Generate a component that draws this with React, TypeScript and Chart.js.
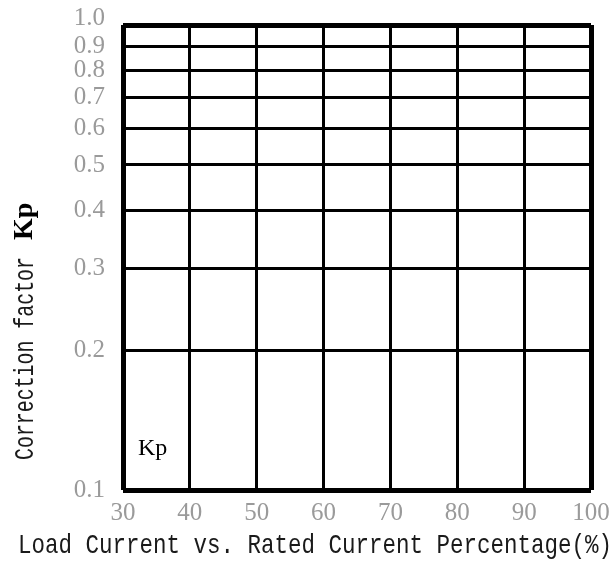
import React, { useEffect, useRef } from "react";
import { Chart, registerables } from "chart.js";

Chart.register(...registerables);

const xTicks = [30, 40, 50, 60, 70, 80, 90, 100];
const yTicks = [0.1, 0.2, 0.3, 0.4, 0.5, 0.6, 0.7, 0.8, 0.9, 1.0];
const seriesLabel = "Kp";
const seriesValues: { x: number; y: number }[] = [];
const xTitle = "Load Current vs. Rated Current Percentage(%)";
const yTitleMain = "Correction factor";
const yTitleSymbol = "Kp";

const drawText = (
  ctx: CanvasRenderingContext2D,
  text: string,
  font: string,
  targetWidth: number
) => {
  ctx.font = font;
  const w = ctx.measureText(text).width;
  const s = targetWidth / w;
  ctx.save();
  ctx.scale(s, 1);
  ctx.fillText(text, 0, 0);
  ctx.restore();
};

const titlesPlugin = {
  id: "titles",
  afterDraw(chart: any) {
    const ctx: CanvasRenderingContext2D = chart.ctx;
    ctx.save();
    ctx.textAlign = "left";
    ctx.textBaseline = "alphabetic";
    ctx.fillStyle = "#1a1a1a";
    // x title
    ctx.save();
    ctx.translate(18, 553);
    drawText(ctx, xTitle, '28px "Liberation Mono"', 594);
    ctx.restore();
    // y title
    ctx.save();
    ctx.translate(33, 460);
    ctx.rotate(-Math.PI / 2);
    drawText(ctx, yTitleMain, '27px "Liberation Mono"', 203);
    ctx.translate(220, -1);
    ctx.font = 'bold 28px "Liberation Serif"';
    ctx.fillStyle = "#000";
    ctx.fillText(yTitleSymbol, 0, 0);
    ctx.restore();
    // series label
    const label = chart.data.datasets[0]?.label ?? "";
    ctx.font = '24px "Liberation Serif"';
    ctx.fillStyle = "#000";
    ctx.fillText(label, 138, 455);
    ctx.restore();
  },
};

const zeroPadding = (s: any) => {
  s.paddingTop = 0;
  s.paddingBottom = 0;
  s.paddingLeft = 0;
  s.paddingRight = 0;
};

export default function App() {
  const ref = useRef<HTMLCanvasElement | null>(null);
  useEffect(() => {
    document.body.style.margin = "0";
    if (!ref.current) return;
    const edgeWidth = (edges: number[]) => (c: any) =>
      c.tick && edges.includes(c.tick.value) ? 5 : 3;
    const yTop = yTicks[yTicks.length - 1];
    const chart = new Chart(ref.current, {
      type: "scatter",
      data: {
        datasets: [
          {
            label: seriesLabel,
            data: seriesValues,
            borderColor: "#000",
            backgroundColor: "#000",
          },
        ],
      },
      options: {
        animation: false,
        responsive: true,
        maintainAspectRatio: false,
        layout: { padding: { left: 0, right: 24, top: 25, bottom: 0 } },
        plugins: {
          legend: { display: false },
          tooltip: { enabled: false },
        },
        scales: {
          x: {
            type: "linear",
            min: xTicks[0],
            max: xTicks[xTicks.length - 1],
            afterBuildTicks: (s: any) => {
              s.ticks = xTicks.map((v) => ({ value: v }));
            },
            afterFit: (s: any) => {
              s.height = 71;
              zeroPadding(s);
            },
            border: { display: false },
            grid: {
              color: "#000",
              lineWidth: edgeWidth([xTicks[0], xTicks[xTicks.length - 1]]),
              drawTicks: false,
            },
            ticks: {
              color: "#9a9a9a",
              font: { family: '"Liberation Serif"', size: 25 },
              padding: 8,
              maxRotation: 0,
              autoSkip: false,
              callback: (v: any) => String(v),
            },
          },
          y: {
            type: "logarithmic",
            min: yTicks[0],
            max: yTop,
            afterBuildTicks: (s: any) => {
              s.ticks = yTicks.map((v) => ({ value: v }));
            },
            afterFit: (s: any) => {
              s.width = 123;
              zeroPadding(s);
            },
            border: { display: false },
            grid: {
              color: "#000",
              lineWidth: edgeWidth([yTicks[0], yTop]),
              drawTicks: false,
            },
            ticks: {
              color: "#9a9a9a",
              font: (c: any) => ({
                family: '"Liberation Serif"',
                size: 25,
                lineHeight: c.tick && c.tick.value === yTop ? 0.56 : 1.2,
              }),
              padding: 18,
              autoSkip: false,
              callback: (v: any) =>
                Number(v) === yTop ? [Number(v).toFixed(1), ""] : Number(v).toFixed(1),
            },
          },
        },
      } as any,
      plugins: [titlesPlugin],
    });
    return () => chart.destroy();
  }, []);
  return (
    <div style={{ position: "absolute", left: 0, top: 0, width: 615, height: 561 }}>
      <canvas ref={ref} />
    </div>
  );
}
